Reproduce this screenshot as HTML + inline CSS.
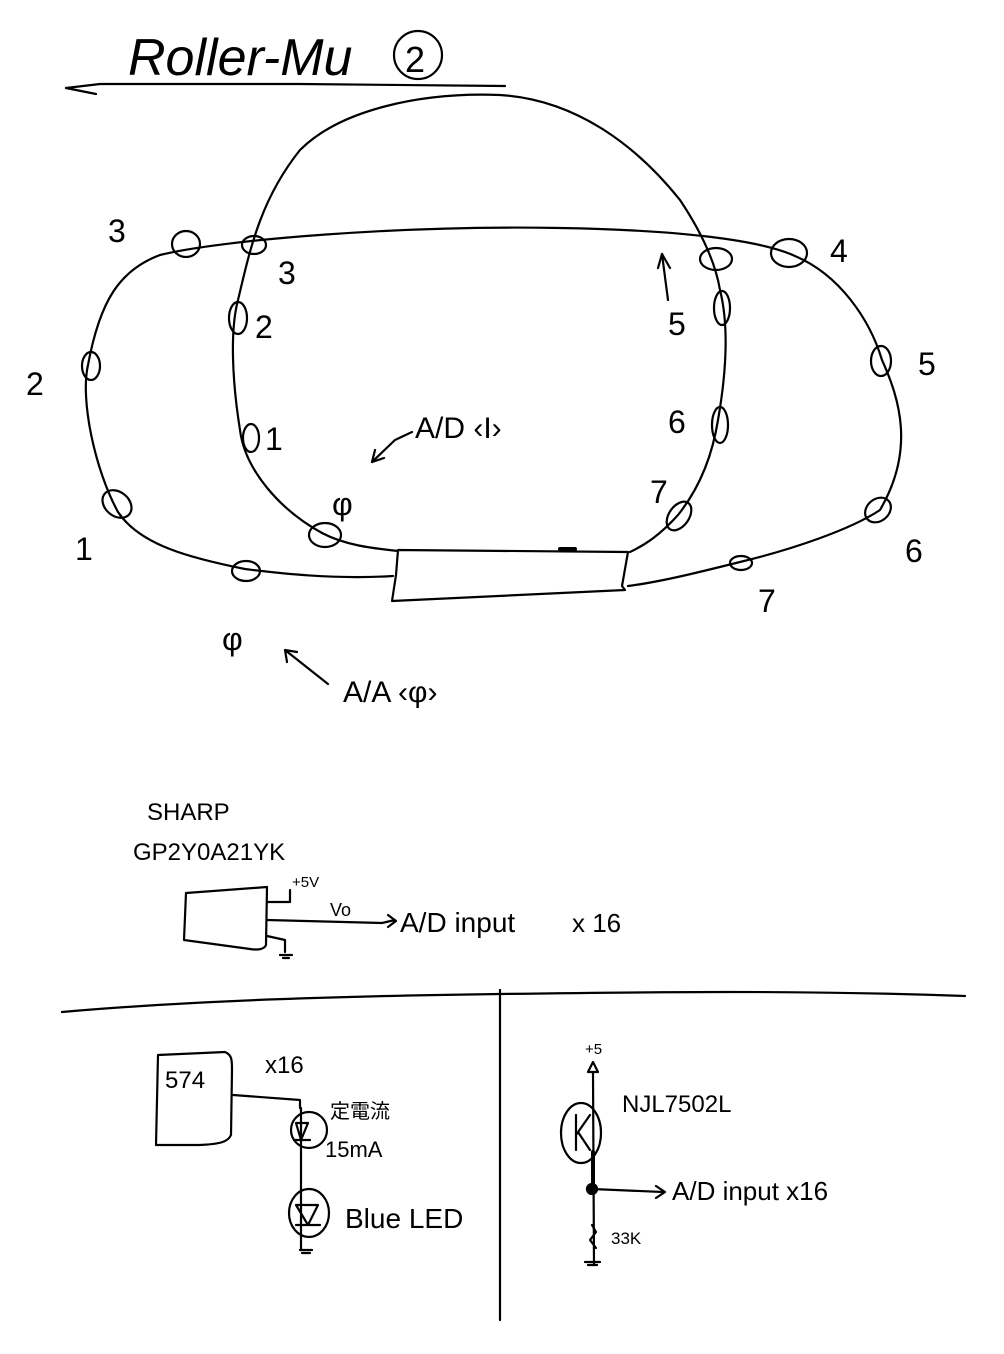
<!DOCTYPE html>
<html><head><meta charset="utf-8"><style>
html,body{margin:0;padding:0;background:#fff;}
svg{display:block}
text{font-family:"Liberation Sans","Noto Sans CJK JP",sans-serif;fill:#000}
</style></head><body>
<svg width="1004" height="1354" viewBox="0 0 1004 1354" xmlns="http://www.w3.org/2000/svg">
<g fill="none" stroke="#000" stroke-width="2.2" stroke-linecap="round" stroke-linejoin="round">
<!-- title underline -->
<path d="M66 88 L100 84 L300 84 L505 86"/>
<path d="M66 88 L96 94"/>
<!-- outer loop -->
<path d="M393 576 C330 580 270 572 245 569 C190 558 140 545 118 512 C95 470 80 400 88 365 C100 300 120 270 160 255 C220 240 400 225 560 228 C680 230 760 240 795 256 C840 275 870 320 882 360 C900 400 915 450 880 510 C850 530 790 550 740 562 C700 572 660 582 628 586"/>
<!-- inner loop -->
<path d="M322 533 C280 510 245 470 240 430 C232 380 230 330 238 300 C250 250 260 200 300 150 C340 110 420 92 500 95 C580 100 640 150 680 200 C700 230 715 260 720 290 C730 330 725 380 718 420 C710 470 690 500 678 515 C660 535 645 545 630 552"/>
<path d="M322 533 C345 545 370 548 398 551"/>
<!-- box -->
<path d="M398 550 L628 552 L622 586 L625 590 L392 601 L396 575 Z"/>
<path d="M560 549 L575 549" stroke-width="4"/>
<!-- sensor ellipses outer -->
<ellipse cx="186" cy="244" rx="14" ry="13"/>
<ellipse cx="91" cy="366" rx="9" ry="14"/>
<ellipse cx="117" cy="504" rx="16" ry="12" transform="rotate(40 117 504)"/>
<ellipse cx="246" cy="571" rx="14" ry="10"/>
<ellipse cx="789" cy="253" rx="18" ry="14"/>
<ellipse cx="881" cy="361" rx="10" ry="15"/>
<ellipse cx="878" cy="510" rx="14" ry="11" transform="rotate(-40 878 510)"/>
<ellipse cx="741" cy="563" rx="11" ry="7"/>
<!-- inner sensors -->
<ellipse cx="254" cy="245" rx="12" ry="9"/>
<ellipse cx="238" cy="318" rx="9" ry="16"/>
<ellipse cx="251" cy="438" rx="8" ry="14"/>
<ellipse cx="325" cy="535" rx="16" ry="12"/>
<ellipse cx="716" cy="259" rx="16" ry="11"/>
<ellipse cx="722" cy="308" rx="8" ry="17"/>
<ellipse cx="720" cy="425" rx="8" ry="18"/>
<ellipse cx="679" cy="516" rx="10" ry="16" transform="rotate(35 679 516)"/>
<!-- arrows -->
<path d="M412 432 L395 440 L372 462"/>
<path d="M372 462 L375 450 M372 462 L384 458"/>
<path d="M662 254 L668 300"/>
<path d="M662 254 L658 268 M662 254 L670 268"/>
<path d="M328 684 L285 650 M285 650 L287 662 M285 650 L297 652"/>
<!-- A/D <0> text handdrawn part -->
<!-- sharp sensor -->
<path d="M186 893 L267 887 L266 945 C264 950 256 950 250 949 L184 940 Z"/>
<path d="M267 902 L290 902 L290 890"/>
<path d="M267 920 L382 923 M382 923 L395 920 M388 915 L396 921 L388 927"/>
<path d="M267 936 L285 940 L285 952 M280 955 L292 955 M283 958 L289 958"/>
<!-- separators -->
<path d="M62 1012 C200 1000 350 996 500 994 C650 992 800 990 965 996"/>
<path d="M500 990 L500 1320"/>
<!-- 574 box -->
<path d="M158 1055 L225 1052 C232 1055 232 1060 232 1070 L231 1135 C228 1142 220 1144 200 1145 L156 1145 Z"/>
<path d="M233 1095 L300 1100 L300 1108"/>
<circle cx="309" cy="1130" r="18"/>
<path d="M301 1108 L301 1250"/>
<path d="M296 1123 L308 1123 L301 1140 Z M294 1140 L310 1140"/>
<ellipse cx="309" cy="1213" rx="20" ry="24"/>
<path d="M296 1205 L318 1205 L308 1225 Z M296 1225 L320 1225"/>
<path d="M300 1250 L312 1250 M302 1253 L310 1253"/>
<!-- NJL -->
<path d="M588 1072 L593 1062 L598 1072 Z"/>
<path d="M593 1072 L594 1265"/>
<ellipse cx="581" cy="1133" rx="20" ry="30"/>
<path d="M576 1115 L576 1150 M576 1135 L590 1115 M578 1132 L590 1150"/>
<path d="M593 1152 L593 1188" stroke-width="4"/>
<circle cx="592" cy="1189" r="5" fill="#000"/>
<path d="M592 1189 L663 1192 M656 1186 L665 1192 L656 1198"/>
<path d="M592 1225 L596 1232 L590 1240 L596 1248"/>
<path d="M585 1262 L600 1262 M588 1265 L597 1265"/>
</g>
<!-- Title -->
<text x="128" y="75" font-size="52" font-style="italic" font-family="Liberation Serif">Roller-Mu</text>
<circle cx="418" cy="55" r="24" fill="none" stroke="#000" stroke-width="2.2"/>
<text x="405" y="72" font-size="36">2</text>
<!-- outer labels -->
<g font-size="32">
<text x="108" y="242">3</text>
<text x="26" y="395">2</text>
<text x="75" y="560">1</text>
<text x="222" y="650">φ</text>
<text x="830" y="262">4</text>
<text x="918" y="375">5</text>
<text x="905" y="562">6</text>
<text x="758" y="612">7</text>
<text x="278" y="284">3</text>
<text x="255" y="338">2</text>
<text x="265" y="450">1</text>
<text x="332" y="515">φ</text>
<text x="668" y="335">5</text>
<text x="668" y="433">6</text>
<text x="650" y="503">7</text>
<text x="415" y="438" font-size="30">A/D ‹I›</text>
<text x="343" y="702" font-size="30">A/A ‹φ›</text>
</g>
<!-- sharp text -->
<g font-size="24">
<text x="147" y="820">SHARP</text>
<text x="133" y="860">GP2Y0A21YK</text>
<text x="292" y="887" font-size="15">+5V</text>
<text x="330" y="916" font-size="18">Vo</text>
<text x="400" y="932" font-size="28">A/D input</text>
<text x="572" y="932" font-size="26">x 16</text>
<text x="165" y="1088">574</text>
<text x="265" y="1073">x16</text>
<text x="330" y="1118" font-size="20">定電流</text>
<text x="325" y="1157" font-size="22">15mA</text>
<text x="345" y="1228" font-size="28">Blue LED</text>
<text x="585" y="1054" font-size="15">+5</text>
<text x="622" y="1112">NJL7502L</text>
<text x="672" y="1200" font-size="26">A/D input x16</text>
<text x="611" y="1244" font-size="17">33K</text>
</g>
</svg>
</body></html>
